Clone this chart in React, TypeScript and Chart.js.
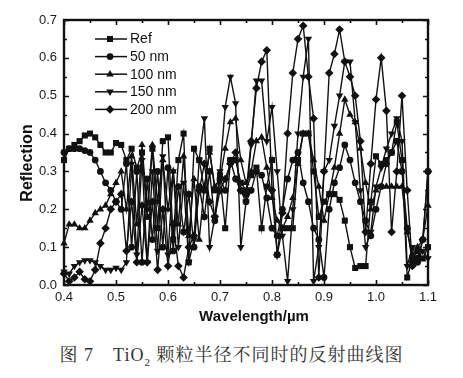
import React, { useEffect, useRef } from "react";
import { Chart, registerables } from "chart.js";
Chart.register(...registerables);

const wavelengths = [
  0.40, 0.41, 0.42, 0.43, 0.44, 0.45, 0.46, 0.47, 0.48, 0.49,
  0.50, 0.51, 0.52, 0.53, 0.54, 0.55, 0.56, 0.57, 0.58, 0.59,
  0.60, 0.61, 0.62, 0.63, 0.64, 0.65, 0.66, 0.67, 0.68, 0.69,
  0.70, 0.71, 0.72, 0.73, 0.74, 0.75, 0.76, 0.77, 0.78, 0.79,
  0.80, 0.81, 0.82, 0.83, 0.84, 0.85, 0.86, 0.87, 0.88, 0.89,
  0.90, 0.91, 0.92, 0.93, 0.94, 0.95, 0.96, 0.97, 0.98, 0.99,
  1.00, 1.01, 1.02, 1.03, 1.04, 1.05, 1.06, 1.07, 1.08, 1.09,
  1.10,
];

const refValues = [
  0.33, 0.36, 0.37, 0.38, 0.395, 0.40, 0.39, 0.37, 0.35, 0.35,
  0.375, 0.37, 0.33, 0.36, 0.31, 0.35, 0.18, 0.36, 0.15, 0.38,
  0.39, 0.12, 0.33, 0.40, 0.06, 0.36, 0.33, 0.25, 0.36, 0.25,
  0.29, 0.15, 0.33, 0.33, 0.27, 0.25, 0.29, 0.31, 0.15, 0.26,
  0.33, 0.08, 0.15, 0.15, 0.15, 0.33, 0.40, 0.40, 0.30, 0.18,
  0.22, 0.24, 0.24, 0.225, 0.17, 0.10, 0.045, 0.05, 0.05, 0.22,
  0.34, 0.32, 0.33, 0.35, 0.43, 0.33, 0.02, 0.07, 0.09, 0.07,
  0.10,
];

const nm50Values = [
  0.35, 0.36, 0.36, 0.36, 0.355, 0.35, 0.33, 0.30, 0.27, 0.25,
  0.22, 0.20, 0.32, 0.10, 0.30, 0.06, 0.28, 0.12, 0.30, 0.10,
  0.31, 0.09, 0.26, 0.14, 0.24, 0.10, 0.26, 0.18, 0.30, 0.17,
  0.28, 0.25, 0.33, 0.28, 0.25, 0.22, 0.25, 0.30, 0.29, 0.23,
  0.15, 0.13, 0.20, 0.28, 0.33, 0.35, 0.27, 0.22, 0.15, 0.12,
  0.02, 0.20, 0.27, 0.31, 0.37, 0.33, 0.27, 0.22, 0.17, 0.13,
  0.20, 0.26, 0.32, 0.35, 0.38, 0.30, 0.15, 0.06, 0.06, 0.12,
  0.30,
];

const nm100Values = [
  0.11, 0.16, 0.16, 0.15, 0.15, 0.17, 0.19, 0.20, 0.21, 0.24,
  0.27, 0.30, 0.20, 0.34, 0.16, 0.37, 0.20, 0.37, 0.22, 0.33,
  0.20, 0.30, 0.16, 0.34, 0.13, 0.28, 0.12, 0.26, 0.35, 0.26,
  0.28, 0.36, 0.43, 0.44, 0.33, 0.27, 0.30, 0.38, 0.39, 0.31,
  0.23, 0.17, 0.15, 0.18, 0.23, 0.32, 0.40, 0.40, 0.33, 0.26,
  0.17, 0.24, 0.31, 0.40, 0.49, 0.45, 0.43, 0.36, 0.27, 0.20,
  0.25, 0.26, 0.26, 0.26, 0.26, 0.26, 0.14, 0.08, 0.10, 0.12,
  0.21,
];

const nm150Values = [
  0.035, 0.03, 0.05, 0.06, 0.065, 0.065, 0.06, 0.05, 0.04, 0.04,
  0.045, 0.04, 0.06, 0.32, 0.08, 0.33, 0.06, 0.30, 0.09, 0.34,
  0.08, 0.30, 0.10, 0.27, 0.06, 0.12, 0.33, 0.44, 0.10, 0.18,
  0.30, 0.47, 0.55, 0.48, 0.10, 0.22, 0.37, 0.54, 0.54, 0.38,
  0.47, 0.30, 0.13, 0.01, 0.20, 0.40, 0.55, 0.65, 0.01, 0.10,
  0.30, 0.33, 0.42, 0.50, 0.59, 0.59, 0.43, 0.25, 0.10, 0.14,
  0.26, 0.31, 0.36, 0.40, 0.44, 0.38, 0.05, 0.10, 0.07, 0.09,
  0.07,
];

const nm200Values = [
  0.03, 0.01, 0.02, 0.035, 0.015, 0.01, 0.04, 0.11, 0.15, 0.20,
  0.22, 0.24, 0.09, 0.22, 0.06, 0.21, 0.06, 0.22, 0.04, 0.20,
  0.05, 0.16, 0.05, 0.02, 0.10, 0.13, 0.25, 0.32, 0.22, 0.18,
  0.25, 0.28, 0.32, 0.35, 0.25, 0.24, 0.38, 0.52, 0.59, 0.62,
  0.25, 0.08, 0.19, 0.40, 0.56, 0.65, 0.685, 0.55, 0.44, 0.02,
  0.30, 0.56, 0.61, 0.675, 0.59, 0.55, 0.50, 0.38, 0.14, 0.32,
  0.49, 0.60, 0.46, 0.14, 0.30, 0.50, 0.25, 0.05, 0.07, 0.12,
  0.30,
];

const seriesLabels = ["Ref", "50 nm", "100 nm", "150 nm", "200 nm"];
const xTickLabels = ["0.4", "0.5", "0.6", "0.7", "0.8", "0.9", "1.0", "1.1"];
const yTickLabels = ["0.0", "0.1", "0.2", "0.3", "0.4", "0.5", "0.6", "0.7"];

const INK = "#111";
const SANS = '"Liberation Sans", Arial, sans-serif';
const markerKinds = ["square", "circle", "up", "down", "diamond"];

function drawMarker(ctx: CanvasRenderingContext2D, kind: string, x: number, y: number) {
  ctx.beginPath();
  if (kind === "square") {
    ctx.rect(x - 3, y - 3, 6, 6);
  } else if (kind === "circle") {
    ctx.arc(x, y, 3.4, 0, Math.PI * 2);
  } else if (kind === "up") {
    ctx.moveTo(x, y - 4.3);
    ctx.lineTo(x + 3.8, y + 2.2);
    ctx.lineTo(x - 3.8, y + 2.2);
  } else if (kind === "down") {
    ctx.moveTo(x, y + 4.3);
    ctx.lineTo(x + 3.8, y - 2.2);
    ctx.lineTo(x - 3.8, y - 2.2);
  } else {
    ctx.moveTo(x, y - 4.3);
    ctx.lineTo(x + 4.3, y);
    ctx.lineTo(x, y + 4.3);
    ctx.lineTo(x - 4.3, y);
  }
  ctx.closePath();
  ctx.fill();
}

const framePlugin = {
  id: "frameTicksLegend",
  afterDatasetsDraw(chart: any) {
    const { ctx, chartArea: a, scales } = chart;
    const xs = scales.x;
    const ys = scales.y;
    ctx.save();
    ctx.strokeStyle = INK;
    ctx.fillStyle = INK;
    // inward ticks
    ctx.lineWidth = 1.6;
    for (let k = 0; k <= 14; k++) {
      const v = 0.4 + k * 0.05;
      const px = Math.round(xs.getPixelForValue(v)) + 0.5;
      const len = k % 2 === 0 ? 5 : 3;
      ctx.beginPath();
      ctx.moveTo(px, a.bottom);
      ctx.lineTo(px, a.bottom - len);
      ctx.moveTo(px, a.top);
      ctx.lineTo(px, a.top + len);
      ctx.stroke();
    }
    for (let k = 0; k <= 14; k++) {
      const v = k * 0.05;
      const py = Math.round(ys.getPixelForValue(v)) + 0.5;
      const len = k % 2 === 0 ? 5 : 3;
      ctx.beginPath();
      ctx.moveTo(a.left, py);
      ctx.lineTo(a.left + len, py);
      ctx.moveTo(a.right, py);
      ctx.lineTo(a.right - len, py);
      ctx.stroke();
    }
    // frame
    ctx.lineWidth = 2.4;
    ctx.strokeRect(a.left, a.top, a.right - a.left, a.bottom - a.top);

    // legend
    ctx.font = `14px ${SANS}`;
    ctx.textBaseline = "middle";
    ctx.textAlign = "left";
    const lx0 = a.left + 31;
    const lx1 = a.left + 63;
    const mx = a.left + 46;
    seriesLabels.forEach((label, i) => {
      const y = a.top + 19 + i * 17.6;
      ctx.lineWidth = 1.5;
      ctx.beginPath();
      ctx.moveTo(lx0, y);
      ctx.lineTo(lx1, y);
      ctx.stroke();
      drawMarker(ctx, markerKinds[i], mx, y);
      ctx.fillText(label, a.left + 66, y + 0.5);
    });

    // axis titles
    ctx.font = `bold 15px ${SANS}`;
    ctx.textAlign = "center";
    ctx.fillText("Wavelength/\u00b5m", 254, 317);
    ctx.save();
    ctx.translate(28, 163);
    ctx.rotate(-Math.PI / 2);
    ctx.font = `bold 16px ${SANS}`;
    ctx.fillText("Reflection", 0, 0);
    ctx.restore();
    ctx.restore();
  },
};

export default function App() {
  const ref = useRef<HTMLCanvasElement>(null);
  useEffect(() => {
    const pts = (vals: number[]) => wavelengths.map((x, i) => ({ x, y: vals[i] }));
    const allValues = [refValues, nm50Values, nm100Values, nm150Values, nm200Values];
    const styles: any[] = ["rect", "circle", "triangle", "triangle", "rectRot"];
    const rots = [0, 0, 0, 180, 0];
    const radii = [4.3, 3.4, 4.3, 4.3, 4.3];
    const chart = new Chart(ref.current as HTMLCanvasElement, {
      type: "line",
      data: {
        datasets: allValues.map((vals, i) => ({
          label: seriesLabels[i],
          data: pts(vals),
          borderColor: INK,
          backgroundColor: INK,
          borderWidth: 1.4,
          pointStyle: styles[i],
          pointRotation: rots[i],
          pointRadius: radii[i],
          pointBorderWidth: 0,
          pointBackgroundColor: INK,
          tension: 0,
          clip: false as any,
        })),
      },
      options: {
        responsive: false,
        animation: false,
        devicePixelRatio: 1,
        layout: { padding: { left: 0, right: 35, top: 20, bottom: 0 } },
        plugins: { legend: { display: false }, tooltip: { enabled: false } },
        scales: {
          x: {
            type: "linear",
            min: 0.4,
            max: 1.1,
            grid: { display: false, drawTicks: false },
            border: { display: false },
            ticks: {
              stepSize: 0.1,
              padding: 5,
              color: "#1a1a1a",
              font: { family: SANS, size: 13 },
              callback: (v: any) => {
                const idx = Math.round((Number(v) - 0.4) * 10);
                return xTickLabels[idx] ?? "";
              },
            },
            afterFit: (s: any) => {
              s.height = 50;
            },
          },
          y: {
            min: 0,
            max: 0.7,
            grid: { display: false, drawTicks: false },
            border: { display: false },
            ticks: {
              stepSize: 0.1,
              padding: 7,
              color: "#1a1a1a",
              font: { family: SANS, size: 13 },
              callback: (v: any) => {
                const idx = Math.round(Number(v) * 10);
                return yTickLabels[idx] ?? "";
              },
            },
            afterFit: (s: any) => {
              s.width = 64;
            },
          },
        },
      },
      plugins: [framePlugin],
    });
    return () => chart.destroy();
  }, []);

  return (
    <div style={{ position: "absolute", left: 0, top: 0, width: 463, height: 378, background: "#fff", overflow: "hidden" }}>
      <canvas ref={ref} width={463} height={335} style={{ position: "absolute", left: 0, top: 0, width: 463, height: 335 }} />
      <div
        style={{
          position: "absolute",
          left: 0,
          top: 340,
          width: 463,
          textAlign: "center",
          fontFamily: '"Liberation Serif", "Noto Serif CJK SC", "Noto Sans CJK SC", serif',
          fontSize: 18,
          color: "#333",
          letterSpacing: 1,
          whiteSpace: "nowrap",
        }}
      >
        图 7{"\u3000"}TiO<sub style={{ fontSize: 11 }}>2</sub> 颗粒半径不同时的反射曲线图
      </div>
    </div>
  );
}
